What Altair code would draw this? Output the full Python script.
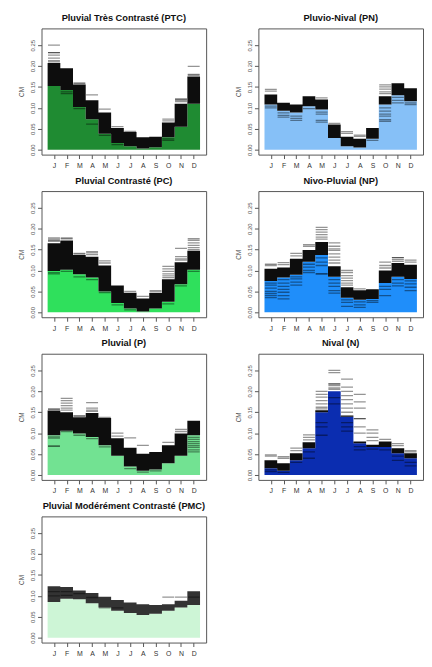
import altair as alt
import pandas as pd

MONTHS = list(range(1, 13))
MONTH_LETTERS = ["J", "F", "M", "A", "M", "J", "J", "A", "S", "O", "N", "D"]
Y_TICKS = [0.0, 0.05, 0.10, 0.15, 0.20, 0.25]

# ---- Pluvial Très Contrasté (PTC)
PTC_LO = [0.152, 0.143, 0.102, 0.073, 0.038, 0.016, 0.008, 0.003, 0.006, 0.030, 0.055, 0.110]
PTC_HI = [0.207, 0.195, 0.156, 0.118, 0.089, 0.052, 0.042, 0.030, 0.031, 0.065, 0.110, 0.175]
PTC_LINES = [[1, 0.250], [1, 0.232], [1, 0.232], [1, 0.226], [1, 0.219], [1, 0.213], [1, 0.210],
             [2, 0.138], [2, 0.134], [3, 0.160], [3, 0.158], [3, 0.098], [4, 0.131], [4, 0.061],
             [5, 0.097], [5, 0.034], [6, 0.055], [6, 0.012], [7, 0.044], [10, 0.073], [10, 0.069],
             [10, 0.026], [10, 0.022], [11, 0.121], [11, 0.121], [11, 0.118], [11, 0.115],
             [12, 0.199], [12, 0.180], [12, 0.178]]

# ---- Pluvio-Nival (PN)
PN_LO = [0.108, 0.093, 0.089, 0.104, 0.096, 0.028, 0.008, 0.005, 0.026, 0.108, 0.130, 0.116]
PN_HI = [0.132, 0.112, 0.108, 0.128, 0.120, 0.060, 0.031, 0.026, 0.052, 0.128, 0.159, 0.147]
PN_LINES = [[1, 0.104], [1, 0.100], [1, 0.144], [1, 0.140], [2, 0.088], [2, 0.082], [2, 0.078],
            [3, 0.080], [3, 0.075], [3, 0.070], [4, 0.098], [5, 0.090], [5, 0.085], [5, 0.070],
            [5, 0.066], [5, 0.124], [6, 0.063], [7, 0.043], [7, 0.039], [8, 0.035], [8, 0.032],
            [9, 0.022], [10, 0.100], [10, 0.092], [10, 0.085], [10, 0.080], [10, 0.072],
            [10, 0.068], [10, 0.155], [10, 0.150], [10, 0.145], [10, 0.138], [10, 0.134],
            [11, 0.125], [11, 0.118], [11, 0.112], [12, 0.112], [12, 0.108]]

# ---- Pluvial Contrasté (PC)
PC_LO = [0.099, 0.102, 0.091, 0.083, 0.050, 0.022, 0.009, 0.002, 0.009, 0.025, 0.067, 0.102]
PC_HI = [0.165, 0.172, 0.137, 0.133, 0.112, 0.064, 0.047, 0.033, 0.046, 0.079, 0.120, 0.147]
PC_LINES = [[1, 0.178], [1, 0.175], [1, 0.172], [1, 0.170], [1, 0.095], [1, 0.092], [2, 0.178],
            [2, 0.176], [2, 0.098], [3, 0.141], [3, 0.139], [3, 0.085], [4, 0.145], [4, 0.142],
            [4, 0.138], [4, 0.078], [5, 0.123], [5, 0.118], [5, 0.047], [6, 0.018], [7, 0.050],
            [7, 0.006], [8, 0.038], [9, 0.052], [9, 0.049], [10, 0.110], [10, 0.104], [10, 0.098],
            [10, 0.092], [10, 0.087], [10, 0.083], [10, 0.020], [11, 0.153], [11, 0.133],
            [11, 0.128], [11, 0.125], [11, 0.063], [12, 0.176], [12, 0.172], [12, 0.166],
            [12, 0.160], [12, 0.155], [12, 0.150], [12, 0.098]]

# ---- Nivo-Pluvial (NP)
NP_LO = [0.075, 0.083, 0.090, 0.121, 0.137, 0.085, 0.035, 0.030, 0.032, 0.070, 0.085, 0.080]
NP_HI = [0.104, 0.107, 0.128, 0.149, 0.168, 0.110, 0.060, 0.053, 0.055, 0.100, 0.118, 0.114]
NP_LINES = [[1, 0.070], [1, 0.065], [1, 0.058], [1, 0.050], [1, 0.045], [1, 0.040], [1, 0.035],
            [1, 0.115], [1, 0.112], [2, 0.078], [2, 0.070], [2, 0.062], [2, 0.055], [2, 0.048],
            [2, 0.040], [2, 0.032], [2, 0.119], [2, 0.114], [3, 0.085], [3, 0.080], [3, 0.072],
            [3, 0.065], [3, 0.141], [3, 0.135], [4, 0.115], [4, 0.108], [4, 0.100], [4, 0.095],
            [4, 0.162], [4, 0.158], [5, 0.130], [5, 0.120], [5, 0.112], [5, 0.092], [5, 0.092],
            [5, 0.203], [5, 0.198], [5, 0.192], [5, 0.186], [5, 0.180], [5, 0.175], [6, 0.166],
            [6, 0.158], [6, 0.152], [6, 0.148], [6, 0.140], [6, 0.132], [6, 0.125], [6, 0.118],
            [6, 0.078], [6, 0.070], [6, 0.062], [6, 0.052], [6, 0.046], [7, 0.100], [7, 0.095],
            [7, 0.088], [7, 0.082], [7, 0.076], [7, 0.070], [7, 0.065], [7, 0.030], [7, 0.024],
            [7, 0.014], [8, 0.056], [8, 0.025], [8, 0.018], [8, 0.012], [9, 0.028], [9, 0.024],
            [10, 0.120], [10, 0.112], [10, 0.106], [10, 0.062], [10, 0.055], [10, 0.040],
            [11, 0.131], [11, 0.131], [11, 0.126], [11, 0.122], [11, 0.078], [11, 0.070],
            [11, 0.063], [12, 0.125], [12, 0.120], [12, 0.075], [12, 0.068], [12, 0.060],
            [12, 0.052]]

# ---- Pluvial (P)
P_LO = [0.095, 0.106, 0.099, 0.091, 0.071, 0.046, 0.020, 0.010, 0.013, 0.028, 0.046, 0.095]
P_HI = [0.154, 0.150, 0.138, 0.148, 0.136, 0.088, 0.065, 0.051, 0.055, 0.071, 0.099, 0.130]
P_LINES = [[1, 0.158], [1, 0.157], [1, 0.091], [1, 0.088], [1, 0.069], [1, 0.069], [2, 0.183],
           [2, 0.178], [2, 0.172], [2, 0.166], [2, 0.160], [2, 0.155], [2, 0.104], [3, 0.142],
           [3, 0.140], [3, 0.095], [4, 0.173], [4, 0.160], [4, 0.155], [4, 0.152], [4, 0.087],
           [5, 0.138], [5, 0.067], [6, 0.100], [6, 0.093], [7, 0.089], [7, 0.015], [8, 0.071],
           [8, 0.007], [9, 0.010], [10, 0.078], [11, 0.109], [11, 0.104], [12, 0.090],
           [12, 0.085], [12, 0.080], [12, 0.075], [12, 0.070], [12, 0.066], [12, 0.060],
           [12, 0.055]]

# ---- Nival (N)
N_LO = [0.016, 0.010, 0.035, 0.064, 0.150, 0.200, 0.139, 0.076, 0.067, 0.067, 0.052, 0.040]
N_HI = [0.035, 0.028, 0.052, 0.078, 0.155, 0.200, 0.142, 0.080, 0.072, 0.080, 0.064, 0.052]
N_LINES = [[1, 0.048], [1, 0.045], [1, 0.012], [1, 0.008], [2, 0.044], [2, 0.040], [2, 0.006],
           [3, 0.064], [3, 0.058], [3, 0.030], [4, 0.096], [4, 0.090], [4, 0.084], [4, 0.055],
           [4, 0.040], [5, 0.200], [5, 0.193], [5, 0.186], [5, 0.178], [5, 0.170], [5, 0.162],
           [5, 0.158], [5, 0.125], [5, 0.115], [5, 0.095], [6, 0.250], [6, 0.245], [6, 0.218],
           [6, 0.218], [6, 0.214], [6, 0.208], [6, 0.205], [6, 0.185], [6, 0.170], [7, 0.229],
           [7, 0.210], [7, 0.200], [7, 0.190], [7, 0.180], [7, 0.170], [7, 0.160], [7, 0.150],
           [7, 0.125], [7, 0.115], [7, 0.105], [8, 0.193], [8, 0.175], [8, 0.160], [8, 0.135],
           [8, 0.135], [8, 0.115], [8, 0.100], [8, 0.068], [8, 0.060], [9, 0.108], [9, 0.100],
           [9, 0.090], [9, 0.082], [9, 0.062], [10, 0.085], [10, 0.060], [11, 0.075],
           [11, 0.070], [11, 0.045], [11, 0.035], [12, 0.058], [12, 0.055], [12, 0.030],
           [12, 0.022]]

# ---- Pluvial Modérément Contrasté (PMC)
PMC_LO = [0.085, 0.093, 0.092, 0.082, 0.072, 0.064, 0.059, 0.054, 0.057, 0.064, 0.072, 0.078]
PMC_HI = [0.123, 0.121, 0.113, 0.107, 0.098, 0.090, 0.084, 0.080, 0.078, 0.080, 0.088, 0.111]
PMC_LINES = [[5, 0.071], [6, 0.071], [10, 0.097], [11, 0.097], [12, 0.097],
             [1, 0.110], [2, 0.110], [3, 0.105], [4, 0.096], [1, 0.100], [2, 0.101]]

PANELS = [
    ("Pluvial Très Contrasté (PTC)", "#1f8b32", PTC_LO, PTC_HI, PTC_LINES),
    ("Pluvio-Nival (PN)", "#86c0f7", PN_LO, PN_HI, PN_LINES),
    ("Pluvial Contrasté (PC)", "#2fe05c", PC_LO, PC_HI, PC_LINES),
    ("Nivo-Pluvial (NP)", "#1f8efa", NP_LO, NP_HI, NP_LINES),
    ("Pluvial (P)", "#72e292", P_LO, P_HI, P_LINES),
    ("Nival (N)", "#0b2db0", N_LO, N_HI, N_LINES),
    ("Pluvial Modérément Contrasté (PMC)", "#cdf5d6", PMC_LO, PMC_HI, PMC_LINES),
]

FONT = "Liberation Sans"
label_expr = "[" + ",".join("'%s'" % l for l in MONTH_LETTERS) + "][datum.value - 1]"

x_scale = alt.Scale(domain=[0.02, 12.98], nice=False, zero=False)
y_scale = alt.Scale(domain=[-0.0118, 0.29], nice=False, zero=False)

x_axis = alt.Axis(values=MONTHS, tickCount=len(MONTHS), labelExpr=label_expr, title=None,
                  grid=False, domain=False, tickSize=4, tickColor="#555", labelFontSize=7,
                  labelColor="#333", labelPadding=3, labelFont=FONT, labelAngle=0,
                  labelOverlap=False, labelFlush=False)
y_axis = alt.Axis(values=Y_TICKS, tickCount=len(Y_TICKS), format=".2f", title="CM",
                  grid=False, domain=False, tickSize=4, tickColor="#555", labelFontSize=6,
                  labelColor="#555", labelAngle=270, labelAlign="center",
                  labelBaseline="bottom", labelPadding=2, labelFont=FONT, titleFont=FONT,
                  titleFontSize=6.5, titleFontWeight="normal", titleColor="#444",
                  titlePadding=5, labelOverlap=False, labelFlush=False)


def panel(title, color, lo, hi, lines, band_opacity):
    # step edges: each month spans [m - 0.5, m + 0.5]
    edges = [m - 0.5 for m in MONTHS] + [MONTHS[-1] + 0.5]
    df = pd.DataFrame({"x": edges, "lo": lo + [lo[-1]], "hi": hi + [hi[-1]]})
    base = alt.Chart(df).transform_calculate(zero="0")
    fill = base.mark_area(color=color, interpolate="step-after", clip=True).encode(
        x=alt.X("x:Q", scale=x_scale, axis=x_axis),
        y=alt.Y("zero:Q", scale=y_scale, axis=y_axis),
        y2="lo:Q",
    )
    band = base.mark_area(color="black", opacity=band_opacity, interpolate="step-after",
                          clip=True).encode(
        x="x:Q", y="lo:Q", y2="hi:Q"
    )
    ldf = pd.DataFrame(lines, columns=["m", "v"])
    rules = alt.Chart(ldf).transform_calculate(
        x0="datum.m - 0.47", x1="datum.m + 0.47"
    ).mark_rule(color="black", opacity=0.42, strokeWidth=1.3, clip=True).encode(
        x="x0:Q", x2="x1:Q", y="v:Q"
    )
    return alt.layer(fill, band, rules).properties(
        width=167, height=128,
        title=alt.TitleParams(title, fontSize=9.4, font=FONT, fontWeight="bold",
                              offset=5, anchor="middle", color="#111"),
    )


charts = []
for (t, c, lo, hi, lines) in PANELS:
    op = 0.8 if "PMC" in t else 0.95
    charts.append(panel(t, c, lo, hi, lines, op))

chart = alt.concat(*charts, columns=2, spacing={"row": 37, "column": 53}, bounds="flush").properties(
    padding={"left": 10, "top": 0, "right": 0, "bottom": 0}
).configure_view(stroke="#555", strokeWidth=1)

chart.save("out.html", embed_options={"renderer": "svg", "actions": False})
